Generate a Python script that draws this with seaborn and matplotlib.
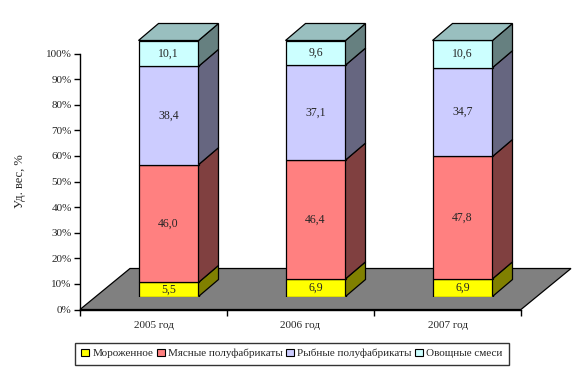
import numpy as np
import pandas as pd
import seaborn as sns
from matplotlib import pyplot as plt
from matplotlib.patches import Polygon, Rectangle

# data
years = ["2005 год", "2006 год", "2007 год"]
series = ["Мороженное", "Мясные полуфабрикаты", "Рыбные полуфабрикаты", "Овощные смеси"]
icecream = [5.5, 6.9, 6.9]
meat = [46.0, 46.4, 47.8]
fish = [38.4, 37.1, 34.7]
veg = [10.1, 9.6, 10.6]
ytick_labels = ["0%", "10%", "20%", "30%", "40%", "50%", "60%", "70%", "80%", "90%", "100%"]

front = ["#FFFF00", "#FF8080", "#CCCCFF", "#CCFFFF"]
side = ["#808000", "#804040", "#666680", "#668080"]
top_col = "#99BFBF"

sns.set_style("white")
plt.rcParams["font.family"] = ["Liberation Serif", "DejaVu Serif"]
plt.rcParams["font.size"] = 8

W, H = 586, 372
fig = plt.figure(figsize=(W / 100, H / 100), dpi=100)

# main axes = front plane of the floor (pixels)
x0, x1, y0, y1 = 80, 521, 309.5, 53.5
pos = [x0 / W, (H - y0) / H, (x1 - x0) / W, (y0 - y1) / H]
ax = fig.add_axes(pos)
ax.set_xlim(-0.5, 2.5)
ax.set_ylim(0, 100)
px_x = (x1 - x0) / 3.0        # px per category
px_y = (y0 - y1) / 100.0      # px per percent

# floor
fdx, fdy = 50 / px_x, 41 / px_y
floor = Polygon([(-0.5, 0), (2.5, 0), (2.5 + fdx, fdy), (-0.5 + fdx, fdy)],
                closed=True, facecolor="#808080", edgecolor="black", lw=0.9,
                clip_on=False, zorder=0)
ax.add_patch(floor)

for s in ["top", "right"]:
    ax.spines[s].set_visible(False)
for s in ["left", "bottom"]:
    ax.spines[s].set_color("black")
    ax.spines[s].set_linewidth(1.0)
ax.set_yticks(np.arange(0, 101, 10))
ax.set_yticklabels(ytick_labels)
ax.set_xticks([-0.5, 0.5, 1.5, 2.5])
ax.set_xticklabels([])
ax.set_xticks([0, 1, 2], minor=True)
ax.set_xticklabels(years, minor=True)
ax.tick_params(axis="y", which="major", direction="out", length=4, width=1.0,
               color="black", left=True, pad=2, labelsize=8)
ax.tick_params(axis="x", which="major", direction="out", length=4, width=1.0,
               color="black", bottom=True)
ax.tick_params(axis="x", which="minor", length=0, pad=8, labelsize=8)
ax.set_ylabel("Уд. вес, %", fontsize=9, labelpad=14)

# bar axes: shifted back into the floor
ox, oy = 15, 13
ax_bar = fig.add_axes([(x0 + ox) / W, (H - y0 + oy) / H, pos[2], pos[3]])
ax_bar.set_axis_off()

df = pd.DataFrame({"year": years, "ice": icecream, "meat": meat, "fish": fish, "veg": veg})
cols = ["ice", "meat", "fish", "veg"]
bw = 60 / px_x
ddx, ddy = 20 / px_x, 17 / px_y

bottom = np.zeros(len(years))
for k, c in enumerate(cols):
    vals = df[c].to_numpy()
    sns.barplot(data=df, x="year", y=c, bottom=bottom, color=front[k], saturation=1,
                width=bw, edgecolor="black", linewidth=0.9, errorbar=None, ax=ax_bar)
    for i in range(len(years)):
        b, t = bottom[i], bottom[i] + vals[i]
        xr = i + bw / 2
        ax_bar.add_patch(Polygon([(xr, b), (xr + ddx, b + ddy), (xr + ddx, t + ddy), (xr, t)],
                                 closed=True, facecolor=side[k], edgecolor="black",
                                 lw=0.9, clip_on=False))
        ax_bar.text(i, (b + t) / 2, f"{vals[i]:.1f}".replace(".", ","),
                    ha="center", va="center", fontsize=8.5)
    bottom = bottom + vals

for i in range(len(years)):
    xl, xr = i - bw / 2, i + bw / 2
    t = bottom[i]
    ax_bar.add_patch(Polygon([(xl, t), (xr, t), (xr + ddx, t + ddy), (xl + ddx, t + ddy)],
                             closed=True, facecolor=top_col, edgecolor="black",
                             lw=0.9, clip_on=False))

ax_bar.set_xlim(-0.5, 2.5)
ax_bar.set_ylim(0, 100)
ax_bar.set_axis_off()

handles = [Rectangle((0, 0), 1, 1, facecolor=front[k], edgecolor="black", lw=0.8)
           for k in range(4)]
leg = fig.legend(handles, series, loc="center", bbox_to_anchor=(292 / W, 1 - 353.5 / H),
                 ncol=4, frameon=True, fancybox=False, fontsize=8,
                 handlelength=0.7, handleheight=0.7, handletextpad=0.3,
                 columnspacing=0.3, borderpad=0.55, borderaxespad=0)
leg.get_frame().set_edgecolor("black")
leg.get_frame().set_linewidth(1.0)

plt.savefig("out.png", dpi=100)
